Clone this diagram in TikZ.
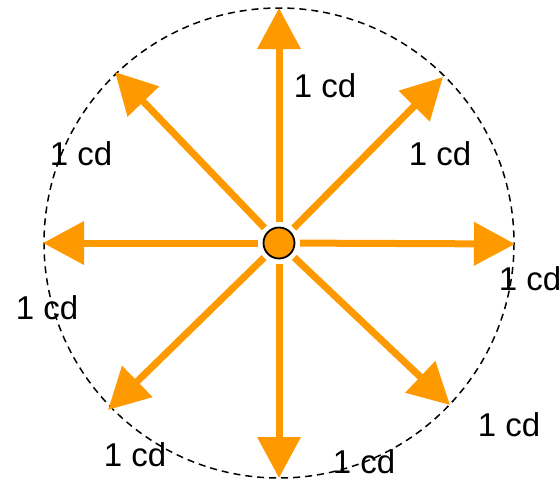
\documentclass[tikz,border=0pt]{standalone}
\usepackage{fontspec}
\setmainfont{Liberation Sans}
\usetikzlibrary{arrows.meta,calc}
\definecolor{orng}{RGB}{255,153,0}
\begin{document}
\begin{tikzpicture}[x=1pt,y=-1pt,
  ray/.style={draw=orng,line width=7pt,-{Triangle[width=42pt,length=41pt]}},
  lbl/.style={font=\fontsize{33}{33}\selectfont,inner sep=0pt},
  dashcircle/.style={draw=black,line width=1.5pt,dash pattern=on 7pt off 5pt}]
\useasboundingbox (0,0) rectangle (559,482);
\coordinate (c) at (279,243);
\draw[dashcircle] (c) circle[radius=235];
\coordinate (tN) at (279,8);
\coordinate (tS) at (279,478);
\coordinate (tE) at (515,244);
\coordinate (tW) at (43,243);
\coordinate (tNE) at (443,77);
\coordinate (tNW) at (115,72);
\coordinate (tSE) at (450,405);
\coordinate (tSW) at (108,410);
\foreach \t in {tN,tS,tE,tW,tNE,tNW,tSE,tSW}{
  \path[ray] ($(c)!21pt!(\t)$) -- (\t);
}
\node[circle,draw=black,fill=orng,line width=1.8pt,minimum size=31pt,inner sep=0pt] (ctr) at (c) {};
\node[lbl] (lN) at (325,86) {1 cd};
\node[lbl] (lNE) at (440,154) {1 cd};
\node[lbl] (lNW) at (81,154) {1 cd};
\node[lbl] (lE) at (530,279) {1 cd};
\node[lbl] (lW) at (47,308) {1 cd};
\node[lbl] (lSW) at (135,455) {1 cd};
\node[lbl] (lS) at (364,462) {1 cd};
\node[lbl] (lSE) at (509,425) {1 cd};
\end{tikzpicture}
\end{document}
